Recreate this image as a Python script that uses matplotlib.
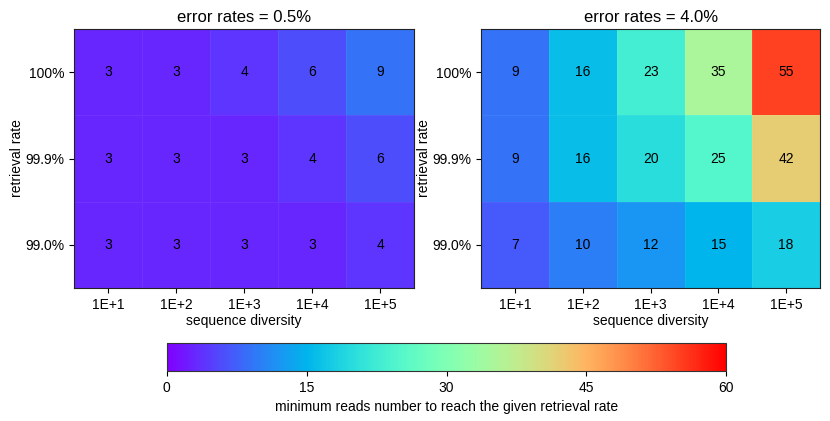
import numpy as np
import matplotlib
matplotlib.use("Agg")
import matplotlib.pyplot as plt

plt.rcParams['font.family'] = ['Liberation Sans', 'DejaVu Sans']

diversity = ["1E+1", "1E+2", "1E+3", "1E+4", "1E+5"]
retrieval = ["100%", "99.9%", "99.0%"]
error_rates = ["0.5%", "4.0%"]

reads_low = [[3, 3, 4, 6, 9],
             [3, 3, 3, 4, 6],
             [3, 3, 3, 3, 4]]
reads_high = [[9, 16, 23, 35, 55],
              [9, 16, 20, 25, 42],
              [7, 10, 12, 15, 18]]

cmap = plt.get_cmap("rainbow")

fig = plt.figure(figsize=(8.3, 4.21), dpi=100)
ax1 = fig.add_axes([0.089, 0.316, 0.410, 0.615])
ax2 = fig.add_axes([0.580, 0.316, 0.408, 0.615])
cax = fig.add_axes([0.201, 0.119, 0.674, 0.066])

for ax, data, er in zip([ax1, ax2], [reads_low, reads_high], error_rates):
    arr = np.array(data)
    mesh = ax.pcolormesh(arr, cmap=cmap, vmin=0, vmax=60,
                         edgecolors=(1, 1, 1, 0.06), linewidth=0.5)
    ax.set_xlim(0, arr.shape[1])
    ax.set_ylim(arr.shape[0], 0)
    for i in range(arr.shape[0]):
        for j in range(arr.shape[1]):
            ax.text(j + 0.5, i + 0.5, str(arr[i, j]), ha="center", va="center",
                    fontsize=10, color="black")
    ax.set_xticks(np.arange(len(diversity)) + 0.5)
    ax.set_xticklabels(diversity, fontsize=10)
    ax.set_yticks(np.arange(len(retrieval)) + 0.5)
    ax.set_yticklabels(retrieval, fontsize=10)
    ax.set_xlabel("sequence diversity", fontsize=10, labelpad=2)
    ax.set_ylabel("retrieval rate", fontsize=10, labelpad=1)
    ax.set_title(f"error rates = {er}", fontsize=12, pad=5)
    for s in ax.spines.values():
        s.set_color("#222222")

cb = fig.colorbar(mesh, cax=cax, orientation="horizontal", ticks=[0, 15, 30, 45, 60])
cb.ax.tick_params(labelsize=10)
cb.outline.set_edgecolor("#333333")
cb.set_label("minimum reads number to reach the given retrieval rate", fontsize=10)

fig.savefig("out.png", dpi=100)
